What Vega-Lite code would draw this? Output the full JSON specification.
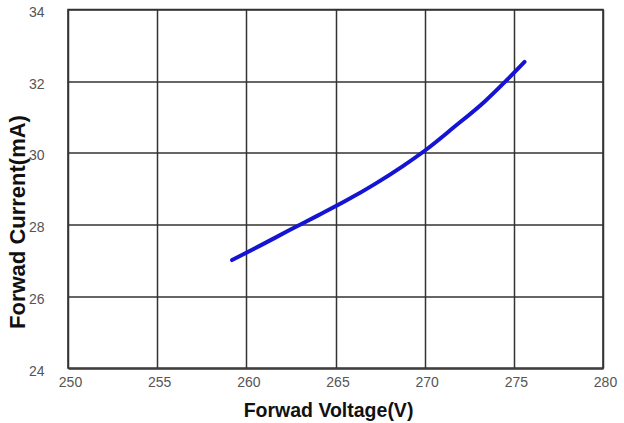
{
  "$schema": "https://vega.github.io/schema/vega-lite/v6.json",
  "autosize": "none",
  "padding": {"left": 68, "top": 9.5, "right": 21, "bottom": 55},
  "width": 535,
  "height": 358.5,
  "background": "white",
  "config": {
    "view": {"stroke": "#333333", "strokeWidth": 1.6},
    "font": "Liberation Sans"
  },
  "data": {
    "values": [
      {"voltage": 259.2, "current": 27.01},
      {"voltage": 260.8, "current": 27.42},
      {"voltage": 262.4, "current": 27.84},
      {"voltage": 264.0, "current": 28.25},
      {"voltage": 265.6, "current": 28.67},
      {"voltage": 267.2, "current": 29.13},
      {"voltage": 268.8, "current": 29.64},
      {"voltage": 270.0, "current": 30.06},
      {"voltage": 271.6, "current": 30.70},
      {"voltage": 273.4, "current": 31.45},
      {"voltage": 274.6, "current": 32.03},
      {"voltage": 275.6, "current": 32.54}
    ]
  },
  "mark": {"type": "line", "color": "#1414d2", "strokeWidth": 4, "interpolate": "monotone", "strokeCap": "round"},
  "encoding": {
    "x": {
      "field": "voltage", "type": "quantitative",
      "scale": {"domain": [250, 280], "nice": false, "zero": false},
      "axis": {
        "title": "Forwad Voltage(V)",
        "values": [250, 255, 260, 265, 270, 275, 280],
        "ticks": false, "domain": false,
        "grid": true, "gridColor": "#333333", "gridWidth": 1.5, "gridOpacity": 1,
        "labelFont": "Liberation Sans", "labelFontSize": 14, "labelColor": "#555555",
        "labelPadding": 7, "labelOffset": 2, "labelFlush": false,
        "titleFont": "Liberation Sans", "titleFontSize": 19.5, "titleFontWeight": "bold", "titleColor": "#111111",
        "titleX": 260, "titleY": 42, "titleBaseline": "middle"
      }
    },
    "y": {
      "field": "current", "type": "quantitative",
      "scale": {"domain": [24, 34], "nice": false, "zero": false},
      "axis": {
        "title": "Forwad Current(mA)",
        "values": [24, 26, 28, 30, 32, 34],
        "ticks": false, "domain": false,
        "grid": true, "gridColor": "#333333", "gridWidth": 1.5, "gridOpacity": 1,
        "labelFont": "Liberation Sans", "labelFontSize": 14, "labelColor": "#555555",
        "labelPadding": 24, "labelOffset": 3, "labelFlush": false,
        "titleFont": "Liberation Sans", "titleFontSize": 22, "titleFontWeight": "bold", "titleColor": "#111111",
        "titleAngle": -90, "titleX": -50.5, "titleY": 212, "titleBaseline": "middle", "titleAlign": "center"
      }
    }
  }
}
